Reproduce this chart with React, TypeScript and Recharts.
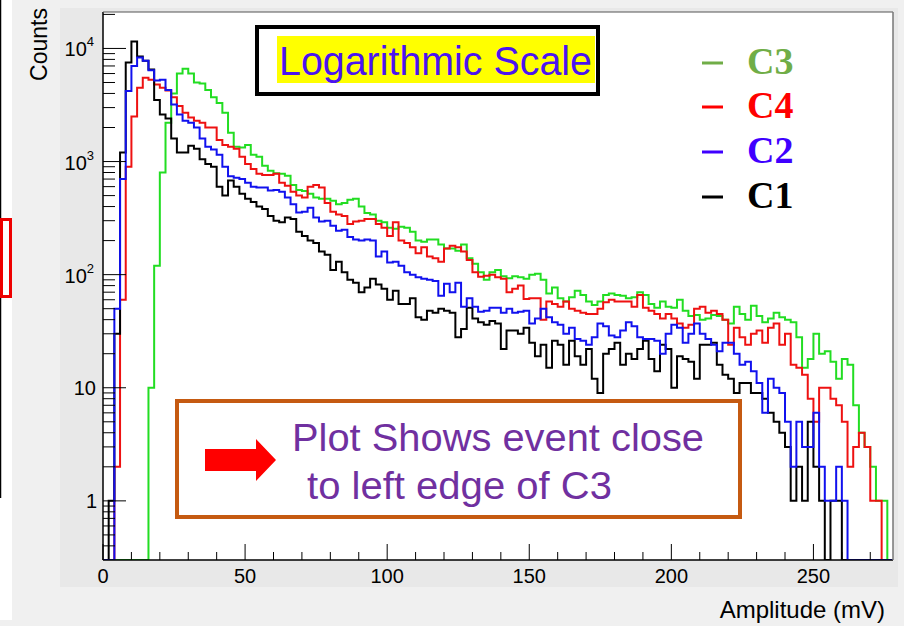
import React from "react";
import { LineChart, Line, XAxis, YAxis } from "recharts";

// histogram contents, 2 mV bins starting at 0 mV
const BIN_WIDTH = 2;

const c1 = [
  0, 1, 30, 1200, 7500, 11500, 8500, 7800, 6500, 3500,
  2600, 2400, 1600, 1200, 1200, 1380, 1300, 1050, 950, 900,
  600, 500, 680, 600, 520, 470, 440, 400, 380, 330,
  300, 290, 320, 310, 240, 220, 200, 190, 160, 150,
  110, 130, 105, 90, 85, 70, 77, 92, 82, 75,
  60, 72, 55, 55, 62, 42, 40, 48, 46, 50,
  48, 46, 28, 33, 51, 41, 38, 36, 39, 37,
  22, 32, 32, 30, 34, 25, 19, 24, 15, 26,
  24, 16, 26, 19, 16, 22, 12, 9, 20, 22,
  25, 16, 20, 18, 22, 26, 18, 14, 24, 22,
  10, 19, 18, 17, 12, 24, 24, 25, 16, 13,
  12, 9, 11, 11, 9, 9, 8, 6, 5, 4,
  3, 1, 2, 1, 5, 2, 1, 0, 1, 1,
  0, 0, 0, 0, 0, 0, 0, 0, 0,
];

const c2 = [
  0, 0, 50, 700, 4200, 7000, 8300, 7800, 6400, 5200,
  5300, 4300, 3200, 2600, 2300, 2200, 2000, 1600, 1350, 1280,
  1150, 900, 740, 720, 700, 650, 600, 590, 590, 555,
  560, 540, 480, 420, 355, 360, 390, 320, 295, 300,
  270, 245, 250, 215, 205, 200, 205, 200, 145, 160,
  128, 130, 120, 105, 100, 95, 92, 90, 88, 65,
  83, 70, 85, 52, 62, 52, 47, 48, 51, 51,
  46, 50, 46, 47, 48, 37, 41, 50, 42, 38,
  36, 30, 34, 27, 26, 24, 28, 37, 35, 29,
  28, 32, 38, 35, 28, 27, 27, 26, 20, 30,
  36, 34, 25, 30, 37, 30, 27, 24, 21, 25,
  25, 20, 16, 17, 14, 11, 6, 12, 10, 9,
  5, 2, 5, 3, 3, 6, 2, 1, 1, 2,
  1, 0, 0, 0, 0, 0, 0, 0, 0,
];

const c3 = [
  0, 0, 0, 0, 0, 0, 0, 0, 10, 120,
  800, 2200, 4000, 6000, 6600, 6000, 5000, 4900, 4300, 3700,
  3300, 2700, 1800, 1350, 1330, 1400, 1150, 1100, 920, 830,
  790, 780, 750, 620, 560, 550, 520, 480, 470, 470,
  450, 420, 430, 460, 470, 400, 350, 340, 300, 290,
  260, 255, 265, 260, 240, 200, 195, 205, 205, 185,
  170, 170, 163, 185, 140, 125, 105, 90, 105, 110,
  97, 93, 97, 95, 92, 100, 102, 90, 68, 77,
  62, 58, 63, 72, 66, 58, 54, 58, 66, 68,
  66, 65, 62, 63, 70, 66, 55, 51, 58, 52,
  51, 60, 48, 43, 44, 40, 41, 44, 43, 40,
  37, 52, 45, 40, 53, 43, 38, 41, 46, 42,
  40, 38, 28, 15, 18, 30, 20, 21, 17, 12,
  18, 16, 7, 4, 3, 2, 1, 1, 0,
];

const c4 = [
  0, 0, 2, 60, 900, 2500, 4500, 5500, 5300, 4800,
  4500, 4250, 3700, 3100, 2700, 2450, 2300, 2200, 2000, 2000,
  1550, 1400, 1350, 1300, 1100, 950, 860, 780, 760, 760,
  780, 650, 610, 540, 500, 480, 600, 620, 590, 430,
  360, 340, 330, 280, 295, 300, 310, 310, 280, 260,
  220, 290, 200, 190, 175, 155, 175, 145, 140, 130,
  170, 180, 175, 160, 135, 105, 96, 98, 100, 95,
  92, 70, 75, 80, 61, 62, 62, 40, 58, 55,
  52, 58, 50, 48, 46, 45, 45, 50, 57, 60,
  58, 58, 58, 52, 66, 51, 48, 45, 41, 45,
  41, 37, 34, 36, 50, 52, 46, 48, 45, 40,
  24, 34, 28, 24, 30, 32, 25, 34, 37, 24,
  30, 16, 15, 13, 8, 5, 10, 10, 8, 7,
  5, 2, 3, 4, 3, 1, 1, 0, 0,
];

const xTicks = [0, 10, 20, 30, 40, 50, 60, 70, 80, 90, 100, 110, 120, 130, 140, 150, 160, 170, 180, 190, 200, 210, 220, 230, 240, 250, 260, 270];
const yTicks = [
  0.4, 0.5, 0.6, 0.7, 0.8, 0.9,
  1, 2, 3, 4, 5, 6, 7, 8, 9,
  10, 20, 30, 40, 50, 60, 70, 80, 90,
  100, 200, 300, 400, 500, 600, 700, 800, 900,
  1000, 2000, 3000, 4000, 5000, 6000, 7000, 8000, 9000,
  10000, 20000,
];

const legendNames = ["C3", "C4", "C2", "C1"];
const legendColors = ["#70ad47", "#ff0000", "#3f00ff", "#000000"];

// empty bins sit on the bottom of the frame, like ROOT draws them
const FLOOR = 0.3;
const Y_MAX = 21000;
const X_MAX = 278;

const PLOT_LEFT = 103;
const PLOT_TOP = 12;
const PLOT_RIGHT = 893;
const PLOT_BOTTOM = 560;

const SANS = "'Liberation Sans', Arial, Helvetica, sans-serif";
const SERIF = "'Liberation Serif', 'Times New Roman', serif";

const data = c1.map((v, i) => ({
  x: i * BIN_WIDTH,
  c1: v || FLOOR,
  c2: c2[i] || FLOOR,
  c3: c3[i] || FLOOR,
  c4: c4[i] || FLOOR,
}));
data.push({ x: c1.length * BIN_WIDTH, c1: FLOOR, c2: FLOOR, c3: FLOOR, c4: FLOOR });

const YTick = (props: any) => {
  const { y, payload } = props;
  const v = payload.value;
  const lg = Math.log10(v);
  const exp = Math.round(lg);
  const major = Math.abs(lg - exp) < 1e-6;
  let label: React.ReactNode = null;
  if (major && exp >= 0) {
    label =
      exp === 0 ? (
        <text x={97} y={y + 7} textAnchor="end" fontSize={20} fontFamily={SANS} fill="#000">1</text>
      ) : exp === 1 ? (
        <text x={96} y={y + 7} textAnchor="end" fontSize={20} fontFamily={SANS} fill="#000">10</text>
      ) : (
        <text x={94} y={y + 8} textAnchor="end" fontSize={20} fontFamily={SANS} fill="#000">
          10<tspan fontSize={13} dy={-10}>{exp}</tspan>
        </text>
      );
  }
  return (
    <g>
      <line x1={PLOT_LEFT} x2={PLOT_LEFT + (major ? 23 : 12)} y1={y} y2={y} stroke="#000" strokeWidth={1} />
      {label}
    </g>
  );
};

const XTick = (props: any) => {
  const { x, payload } = props;
  const major = payload.value % 50 === 0;
  return (
    <g>
      <line x1={x} x2={x} y1={PLOT_BOTTOM} y2={PLOT_BOTTOM - (major ? 16 : 8)} stroke="#000" strokeWidth={1} />
      {major && (
        <text x={x} y={583} textAnchor="middle" fontSize={20} fontFamily={SANS} fill="#000">
          {payload.value}
        </text>
      )}
    </g>
  );
};

const legendY = [63, 107, 152, 197];

export default function App() {
  return (
    <div style={{ position: "absolute", left: 0, top: 0, width: 904, height: 626, background: "#f0f0f0", overflow: "hidden" }}>
      {/* canvas backgrounds */}
      <div style={{ position: "absolute", left: 0, top: 0, width: 12, height: 620, background: "#ffffff" }} />
      <div style={{ position: "absolute", left: 60, top: 8, width: 838, height: 579, background: "#e8e8e8" }} />
      <div style={{ position: "absolute", left: PLOT_LEFT, top: PLOT_TOP, width: PLOT_RIGHT - PLOT_LEFT, height: PLOT_BOTTOM - PLOT_TOP, background: "#ffffff" }} />

      <div style={{ position: "absolute", left: 0, top: 0 }}>
        <LineChart width={904} height={626} data={data} margin={{ top: PLOT_TOP, right: 904 - PLOT_RIGHT, bottom: 0, left: 0 }}>
          <XAxis
            dataKey="x"
            type="number"
            domain={[0, X_MAX]}
            ticks={xTicks}
            allowDataOverflow
            height={626 - PLOT_BOTTOM}
            tickSize={0}
            tickMargin={0}
            tickLine={false}
            tick={<XTick />}
            axisLine={{ stroke: "#000", strokeWidth: 1.5 }}
            interval={0}
          />
          <YAxis
            type="number"
            scale="log"
            domain={[FLOOR, Y_MAX]}
            ticks={yTicks}
            allowDataOverflow
            width={PLOT_LEFT}
            tickSize={0}
            tickMargin={0}
            tickLine={false}
            tick={<YTick />}
            axisLine={{ stroke: "#000", strokeWidth: 1.5 }}
            interval={0}
          />
          <Line type="stepAfter" dataKey="c3" stroke="#22dd22" strokeWidth={2} dot={false} isAnimationActive={false} />
          <Line type="stepAfter" dataKey="c4" stroke="#ee1111" strokeWidth={2} dot={false} isAnimationActive={false} />
          <Line type="stepAfter" dataKey="c1" stroke="#000000" strokeWidth={2} dot={false} isAnimationActive={false} />
          <Line type="stepAfter" dataKey="c2" stroke="#1111ee" strokeWidth={2} dot={false} isAnimationActive={false} />
        </LineChart>
      </div>

      <svg width={904} height={626} style={{ position: "absolute", left: 0, top: 0, pointerEvents: "none" }}>
        {/* left margin leftovers */}
        <line x1={0.5} x2={0.5} y1={0} y2={498} stroke="#000" strokeWidth={1.5} />
        <rect x={1.5} y={219.5} width={9} height={77} fill="none" stroke="#ee0000" strokeWidth={3} />

        {/* frame top and right */}
        <line x1={PLOT_LEFT} x2={PLOT_RIGHT} y1={PLOT_TOP} y2={PLOT_TOP} stroke="#555" strokeWidth={1} />
        <line x1={PLOT_RIGHT} x2={PLOT_RIGHT} y1={PLOT_TOP} y2={PLOT_BOTTOM} stroke="#777" strokeWidth={1.5} />

        {/* axis titles */}
        <text transform="translate(47,8) rotate(-90)" textAnchor="end" fontSize={23} fontFamily={SANS} fill="#000">
          Counts
        </text>
        <text x={885} y={618} textAnchor="end" fontSize={24} fontFamily={SANS} fill="#000">
          Amplitude (mV)
        </text>

        {/* title box */}
        <rect x={257} y={27} width={341} height={67} fill="#fff" stroke="#000" strokeWidth={4} />
        <rect x={277} y={36} width={318} height={47} fill="#ffff00" />
        <text x={279} y={75} fontSize={40} textLength={313} lengthAdjust="spacingAndGlyphs" fontFamily={SANS} fill="#4b14f0">
          Logarithmic Scale
        </text>

        {/* legend */}
        {legendNames.map((name, i) => (
          <g key={name}>
            <line x1={702} x2={723} y1={legendY[i]} y2={legendY[i]} stroke={legendColors[i]} strokeWidth={3} />
            <text x={747} y={legendY[i] + 11} fontSize={38} fontWeight="bold" fontFamily={SERIF} fill={legendColors[i]}>
              {name}
            </text>
          </g>
        ))}

        {/* annotation */}
        <rect x={177} y={401} width={563} height={116} fill="#fff" stroke="#c55a11" strokeWidth={4} />
        <polygon points="205,449 256,449 256,439 276,460 256,481 256,471 205,471" fill="#ff0000" />
        <text x={292} y={451} fontSize={39} textLength={412} lengthAdjust="spacingAndGlyphs" fontFamily={SANS} fill="#7030a0">
          Plot Shows event close
        </text>
        <text x={307} y={499} fontSize={39} textLength={305} lengthAdjust="spacingAndGlyphs" fontFamily={SANS} fill="#7030a0">
          to left edge of C3
        </text>
      </svg>
    </div>
  );
}
